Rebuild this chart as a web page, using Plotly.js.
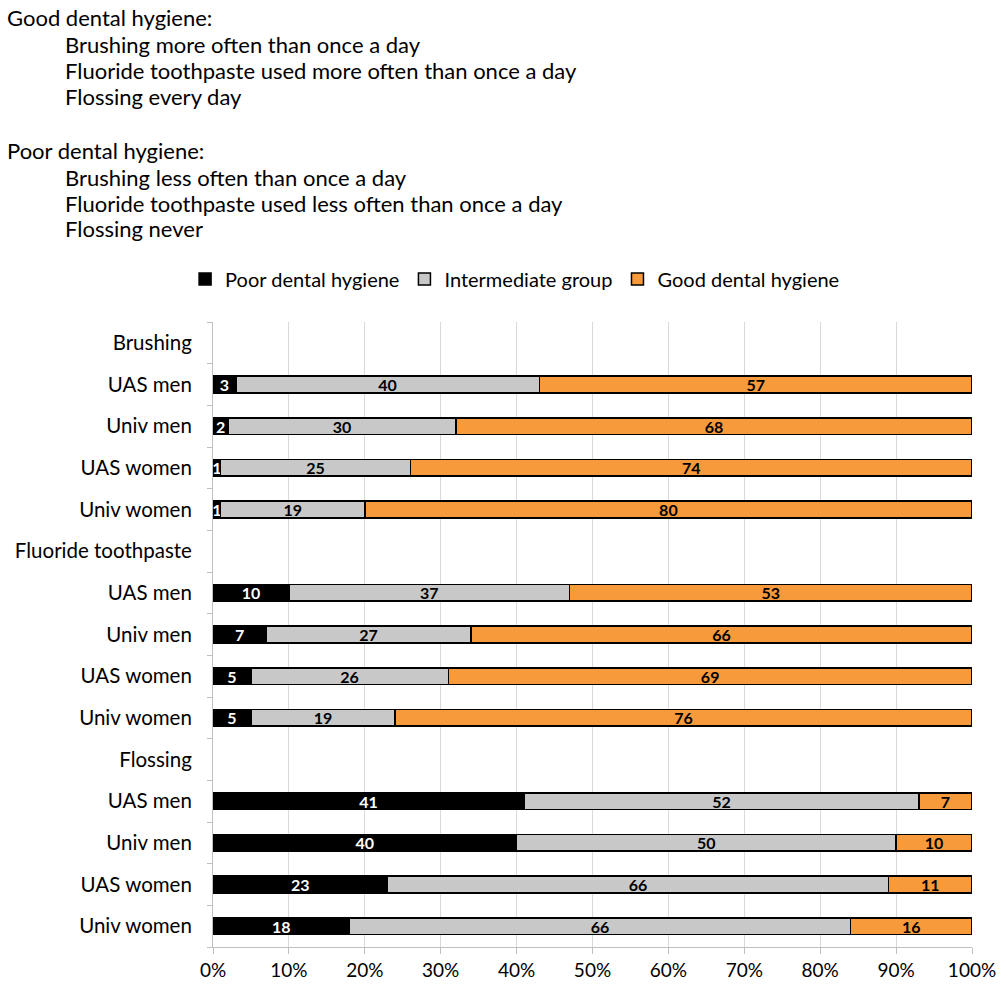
<!DOCTYPE html>
<html>
<head>
<meta charset="utf-8">
<script src="https://cdn.plot.ly/plotly-3.0.1.min.js"></script>
<style>html,body{margin:0;padding:0;background:#fff;}#chart{width:1003px;height:986px;}</style>
</head>
<body>
<div id="chart"></div>
<script>
const categories = ["Brushing","UAS men","Univ men","UAS women","Univ women",
  "Fluoride toothpaste","UAS men","Univ men","UAS women","Univ women",
  "Flossing","UAS men","Univ men","UAS women","Univ women"];
const poor = [null,3,2,1,1, null,10,7,5,5, null,41,40,23,18];
const intermediate = [null,40,30,25,19, null,37,27,26,19, null,52,50,66,66];
const good = [null,57,68,74,80, null,53,66,69,76, null,7,10,11,16];
const seriesNames = ["Poor dental hygiene","Intermediate group","Good dental hygiene"];
const xTicks = [0,10,20,30,40,50,60,70,80,90,100];

const headerLines = [
  {t:"Good dental hygiene:", x:5, y:17},
  {t:"Brushing more often than once a day", x:63, y:44},
  {t:"Fluoride toothpaste used more often than once a day", x:63, y:70},
  {t:"Flossing every day", x:63, y:96},
  {t:"Poor dental hygiene:", x:5, y:151},
  {t:"Brushing less often than once a day", x:63, y:177},
  {t:"Fluoride toothpaste used less often than once a day", x:63, y:203},
  {t:"Flossing never", x:63, y:229}
];

const FONT = "Lato, 'Open Sans', sans-serif";
const yIdx = categories.map((c,i)=>i);
const colors = ["#000000","#C8C8C8","#F79A3B"];
const textColors = ["#ffffff","#000000","#000000"];
const vals = [poor, intermediate, good];

const traces = vals.map((v,k)=>({
  type:"bar", orientation:"h", name:seriesNames[k],
  y:yIdx, x:v,
  text:v.map(a=>a==null?"":String(a)),
  textposition:"inside", insidetextanchor:"middle", constraintext:"none", textangle:0,
  textfont:{family:FONT, size:16, color:textColors[k], weight:"bold"},
  marker:{color:colors[k], line:{color:"#000000", width:1.5}},
  hoverinfo:"none"
}));

const L=213, R=972, T=322, B=947;
const pw=R-L, ph=B-T;
const annotations = headerLines.map(h=>({
  text:h.t, xref:"paper", yref:"paper",
  x:(h.x-L)/pw, y:1+(T-h.y)/ph, xanchor:"left", yanchor:"middle",
  showarrow:false, font:{family:FONT, size:22, color:"#000"}
}));

const layout = {
  width:1003, height:986,
  margin:{l:L, r:1003-R, t:T, b:986-B, pad:0},
  barmode:"stack", bargap:0.6,
  paper_bgcolor:"#fff", plot_bgcolor:"#fff",
  showlegend:true,
  legend:{orientation:"h", x:0.398, xanchor:"center", y:1+(T-279)/ph, yanchor:"middle",
    font:{family:FONT, size:20, color:"#000"}, traceorder:"normal", itemwidth:30, tracegroupgap:0},
  xaxis:{range:[0,100], tickvals:xTicks, ticktext:xTicks.map(t=>t+"%"),
    showgrid:true, gridcolor:"#D9D9D9", gridwidth:1,
    showline:true, linecolor:"#BFBFBF", linewidth:1,
    ticks:"outside", ticklen:6, tickcolor:"#BFBFBF",
    zeroline:false, tickfont:{family:FONT, size:19, color:"#000"}, fixedrange:true},
  yaxis:{range:[14.5,-0.5], tickvals:yIdx, ticktext:categories,
    showgrid:false, zeroline:false,
    showline:true, linecolor:"#BFBFBF", linewidth:1,
    ticks:"", ticklabelstandoff:16,
    minor:{tickmode:"linear", tick0:0.5, dtick:1, ticks:"outside", ticklen:5, tickcolor:"#BFBFBF", showgrid:false},
    tickfont:{family:FONT, size:20.5, color:"#000"}, fixedrange:true},
  annotations:annotations
};

Plotly.newPlot("chart", traces, layout, {displayModeBar:false, staticPlot:true});
</script>
</body>
</html>
